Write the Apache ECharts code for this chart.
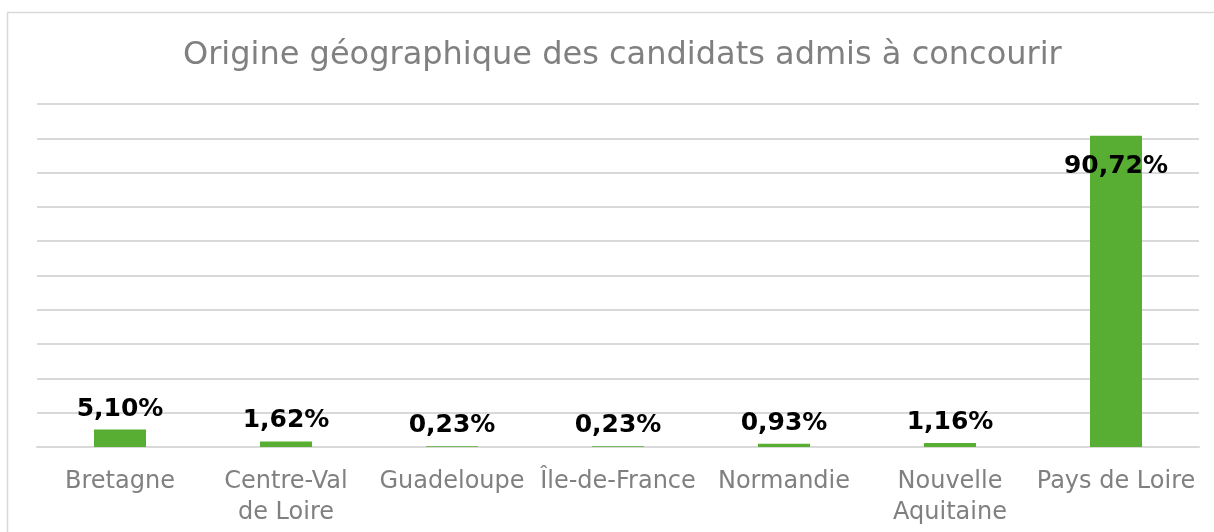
<!DOCTYPE html>
<html>
<head>
<meta charset="utf-8">
<script src="https://cdn.jsdelivr.net/npm/echarts@6/dist/echarts.min.js"></script>
<style>
  html, body { margin: 0; padding: 0; background: #fff; }
  #main { width: 1214px; height: 532px; }
</style>
</head>
<body>
<div id="main"></div>
<script>
// données du graphique
const regions = ['Bretagne', 'Centre-Val\nde Loire', 'Guadeloupe', 'Île-de-France', 'Normandie', 'Nouvelle\nAquitaine', 'Pays de Loire'];
const parts = [5.10, 1.62, 0.23, 0.23, 0.93, 1.16, 90.72];
const titre = 'Origine géographique des candidats admis à concourir';

const chart = echarts.init(document.getElementById('main'));

function fmt(v) {
  return v.toFixed(2).replace('.', ',') + '%';
}

const barData = parts.map(v => {
  const item = { value: v };
  // la plus grande barre porte son étiquette à l'intérieur
  if (v > 50) {
    item.label = { position: 'insideTop', distance: 18 };
  }
  return item;
});

chart.setOption({
  animation: false,
  textStyle: { fontFamily: 'DejaVu Sans' },
  graphic: [{
    type: 'rect',
    shape: { x: 7.5, y: 12.5, width: 1220, height: 540 },
    style: { fill: 'none', stroke: '#d9d9d9', lineWidth: 1.5 },
    silent: true
  }],
  title: {
    text: titre,
    left: 178,
    top: 35,
    textStyle: { fontSize: 32, fontWeight: 'normal', color: '#808080', fontFamily: 'DejaVu Sans' }
  },
  grid: { left: 37, right: 15, top: 104, bottom: 85 },
  xAxis: {
    type: 'category',
    data: regions,
    axisLine: { lineStyle: { color: '#d9d9d9', width: 2 } },
    axisTick: { show: false },
    axisLabel: {
      interval: 0,
      color: '#808080',
      fontSize: 24,
      lineHeight: 31,
      margin: 19,
      fontFamily: 'DejaVu Sans'
    }
  },
  yAxis: {
    type: 'value',
    min: 0,
    max: 100,
    interval: 10,
    axisLabel: { show: false },
    axisLine: { show: false },
    axisTick: { show: false },
    splitLine: { lineStyle: { color: '#d9d9d9', width: 2 } }
  },
  series: [{
    type: 'bar',
    data: barData,
    barWidth: 52,
    itemStyle: { color: '#57ae32' },
    label: {
      show: true,
      position: 'top',
      distance: 8,
      formatter: p => fmt(p.value),
      color: '#000',
      fontWeight: 'bold',
      fontSize: 25,
      fontFamily: 'DejaVu Sans'
    }
  }]
});
</script>
</body>
</html>
